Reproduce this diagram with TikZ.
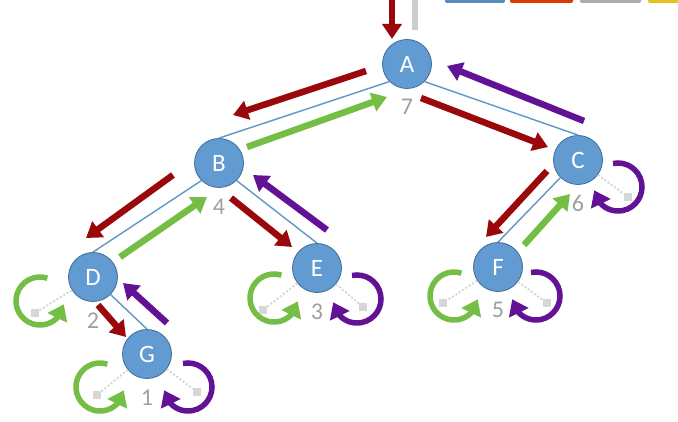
\documentclass[tikz,border=0pt]{standalone}
\usepackage{fontspec}
\setmainfont{Carlito}
\usetikzlibrary{arrows.meta,bending,calc,positioning}
\definecolor{nodeblue}{RGB}{98,155,210}
\definecolor{nodeline}{RGB}{62,108,150}
\definecolor{branchblue}{RGB}{95,150,195}
\definecolor{walkred}{RGB}{155,8,12}
\definecolor{walkgreen}{RGB}{116,190,70}
\definecolor{walkpurple}{RGB}{98,18,148}
\definecolor{nilgray}{RGB}{215,215,215}

\begin{document}
\begin{tikzpicture}[x=1pt,y=1pt,
  vertex/.style={circle,draw=nodeline,line width=0.8pt,fill=nodeblue,minimum size=49pt,inner sep=0pt,text=white,font=\fontsize{25}{25}\selectfont},
  num/.style={text=gray!75,inner sep=0pt,font=\fontsize{24}{24}\selectfont},
  branch/.style={draw=branchblue,line width=1.4pt},
  downred/.style={walkred,line width=6.5pt,-{Triangle[length=15pt,width=19pt]}},
  upgreen/.style={walkgreen,line width=6.5pt,-{Triangle[length=15pt,width=19pt]}},
  uppurple/.style={walkpurple,line width=6.5pt,-{Triangle[length=15pt,width=19pt]}},
  nilgreen/.style={walkgreen,line width=5.5pt,-{Triangle[length=15pt,width=21pt]}},
  nilpurple/.style={walkpurple,line width=5.5pt,-{Triangle[length=15pt,width=21pt]}},
  nilline/.style={nilgray,line width=2pt,dotted},
  nilbox/.style={fill=nilgray,minimum size=8pt,inner sep=0pt}]
\useasboundingbox (0,0) rectangle (678,-422);

\fill[nodeblue!90!black,rounded corners=2pt] (445,5) rectangle (505,-3);
\fill[orange!55!red!85!black,rounded corners=2pt] (510,5) rectangle (573,-3);
\fill[gray!65,rounded corners=2pt] (580,5) rectangle (641,-3);
\fill[yellow!70!orange!90!black,rounded corners=2pt] (648,5) rectangle (690,-3);
\fill[gray!40] (411.5,2) rectangle (417.5,-30);

\node[vertex] (A) at (407,-64) {A};
\node[vertex] (B) at (219,-163) {B};
\node[vertex] (C) at (578,-160) {C};
\node[vertex] (D) at (93,-277) {D};
\node[vertex] (E) at (317,-268) {E};
\node[vertex] (F) at (498,-267) {F};
\node[vertex] (G) at (147,-354) {G};

\node[num,below=10.5pt of A] (nA) {7};
\node[num,below=10.5pt of B] (nB) {4};
\node[num,below=10.5pt of C] (nC) {6};
\node[num,below=10.5pt of D] (nD) {2};
\node[num,below=10.5pt of E] (nE) {3};
\node[num,below=10.5pt of F] (nF) {5};
\node[num,below=10.5pt of G] (nG) {1};

\draw[branch] (A.south west) -- (B.north);
\draw[branch] (A.south east) -- (C.north);
\draw[branch] (B.south west) -- (D.north);
\draw[branch] (B.south east) -- (E.north);
\draw[branch] (C.south west) -- (F.north);
\draw[branch] (D.south east) -- (G.north);

\foreach \n/\cx/\cy/\sx/\sy in {D/-53/-24/-58/-36, E/-43/-30/-54/-42, F/-44/-29/-55/-36, G/-47/-33/-50/-41}{
  \node[nilbox] (nilL\n) at ($(\n)+(\sx,\sy)$) {};
  \draw[nilline] (\n) -- (nilL\n);
  \draw[nilgreen] ($(\n)+(\cx,\cy)+(72:24)$) arc[start angle=72,end angle=352,radius=24];
}
\foreach \n/\cx/\cy/\sx/\sy in {C/40/-27/50/-37, E/40/-31/46/-39, F/38/-29/49/-36, G/41/-33/50/-38}{
  \node[nilbox] (nilR\n) at ($(\n)+(\sx,\sy)$) {};
  \draw[nilline] (\n) -- (nilR\n);
  \draw[nilpurple] ($(\n)+(\cx,\cy)+(102:24)$) arc[start angle=102,end angle=-172,radius=24];
}

\coordinate (src) at (392,6);
\draw[downred] (src) -- ($(A)+(-15,25)$);
\draw[downred] ($(A)+(-41,-7)$) -- ($(B)+(14,48)$);
\draw[upgreen] ($(B)+(28,16)$) -- ($(A)+(-20,-33)$);
\draw[downred] ($(A)+(14,-34)$) -- ($(C)+(-30,13)$);
\draw[uppurple] ($(C)+(6,39)$) -- ($(A)+(40,-2)$);
\draw[downred] ($(B)+(-46,-12)$) -- ($(D)+(-7,39)$);
\draw[upgreen] ($(D)+(27,20)$) -- ($(B)+(-12,-34)$);
\draw[downred] ($(B)+(12,-35)$) -- ($(E)+(-25,21)$);
\draw[uppurple] ($(E)+(10,38)$) -- ($(B)+(34,-12)$);
\draw[downred] ($(C)+(-31,-11)$) -- ($(F)+(-12,30)$);
\draw[upgreen] ($(F)+(26,22)$) -- ($(C)+(-8,-34)$);
\draw[downred] ($(D)+(5,-28)$) -- ($(G)+(-21,17)$);
\draw[uppurple] ($(G)+(20,31)$) -- ($(D)+(30,-6)$);
\end{tikzpicture}
\end{document}
